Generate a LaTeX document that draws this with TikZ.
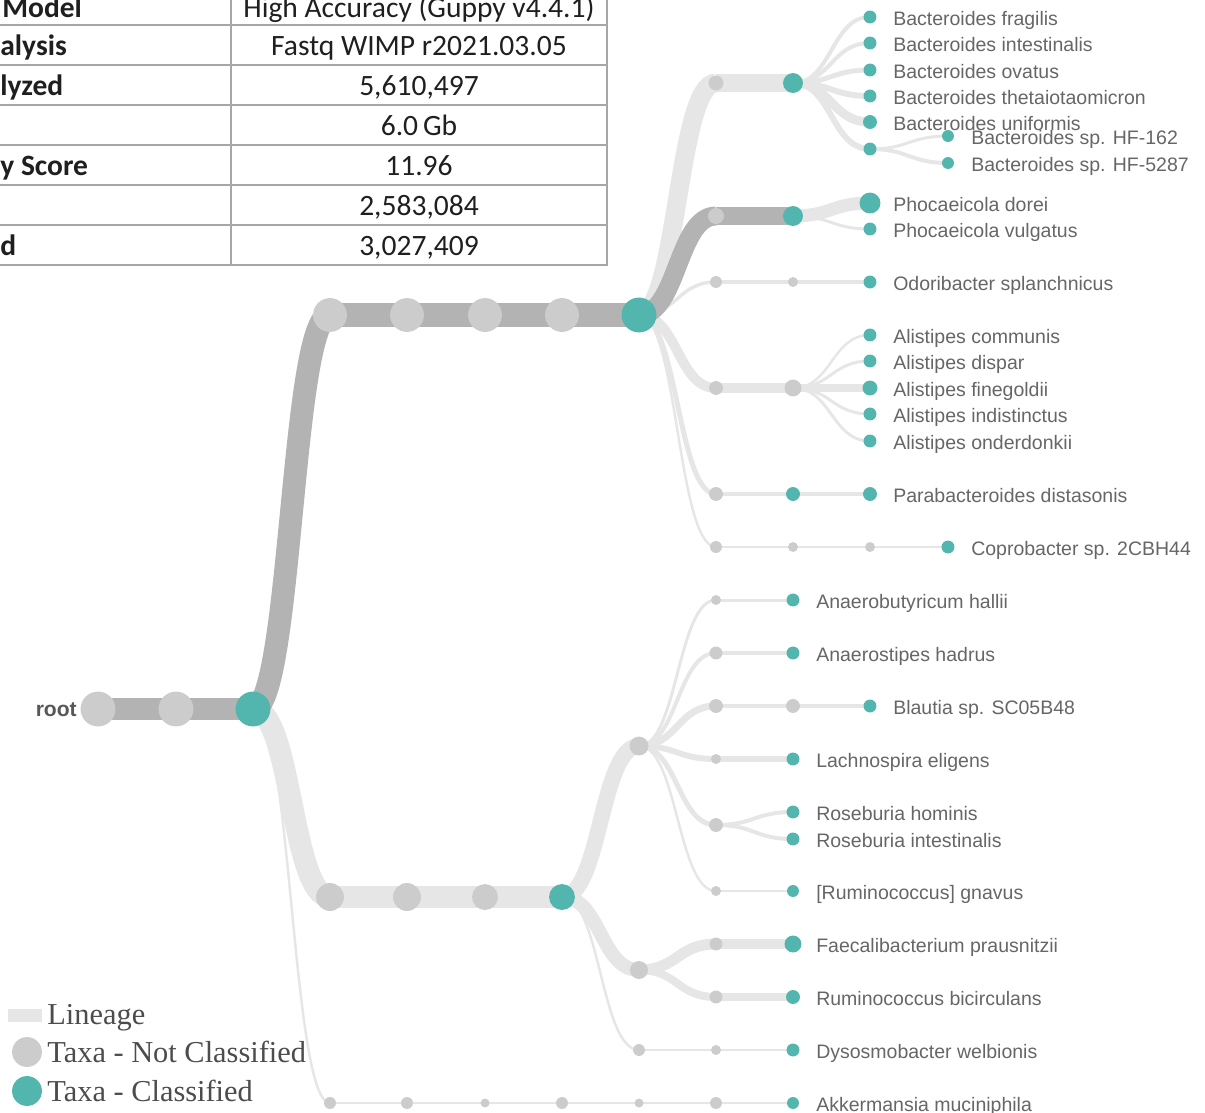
\documentclass[tikz,border=0pt]{standalone}
\usepackage{fontspec}
\newfontfamily\lblfont{Liberation Sans}
\newfontfamily\tabfont{Carlito}
\newfontfamily\legfont{Liberation Serif}
\definecolor{clsf}{HTML}{52B6AE}
\definecolor{ncls}{HTML}{CCCCCC}
\definecolor{linL}{HTML}{E6E6E6}
\definecolor{linD}{HTML}{B3B3B3}
\definecolor{txtc}{HTML}{666666}
\definecolor{tabl}{HTML}{A6A6A6}
\pgfdeclarelayer{bg}
\pgfsetlayers{bg,main}
\tikzset{
  taxon/.style={circle, inner sep=0pt, outer sep=0pt, draw=none},
  lin/.style={line cap=butt},
  lbl/.style={font=\lblfont\fontsize{11.1}{13}\selectfont, text=txtc, anchor=west, inner sep=0pt, text height=7.95pt, text depth=0pt},
  rootlbl/.style={font=\lblfont\bfseries\fontsize{12}{14}\selectfont, text=txtc!85!black, anchor=east, inner sep=0pt, text height=8.6pt, text depth=0pt},
  tabv/.style={font=\tabfont\fontsize{16.8}{19}\selectfont, text=black!88, inner sep=0pt, text height=10.8pt, text depth=0pt},
  tabk/.style={font=\tabfont\bfseries\fontsize{16.8}{19}\selectfont, text=black!88, anchor=west, inner sep=0pt, text height=10.8pt, text depth=0pt},
  tabline/.style={draw=tabl, line width=1.3pt},
  leg/.style={font=\legfont\fontsize{17.3}{20}\selectfont, text=black!70, anchor=west, inner sep=0pt, text height=11.45pt, text depth=0pt},
}
\newcommand\taxnode[5]{\node[taxon, minimum size=#4*1.1338pt, fill=#5] (#1) at (#2,#3) {};}
\newcommand\taxlab[2]{\node[lbl] (#1t) at ([xshift=13.04pt, yshift=-0.6pt]#1.center) {#2};}
\newcommand\lineage[4]{\draw[lin, line width=#3*0.5669pt, draw=#4] (#1.center) .. controls +(38.6,0) and +(-38.6,0) .. (#2.center);}
\begin{document}
\begin{tikzpicture}[x=0.02cm, y=-0.02cm]
\useasboundingbox (0,0) rectangle (1205,1113);

% ---------- table ----------
\foreach \yy in {25,65,105,145,185,225,265} {\draw[tabline] (-5,\yy) -- (608,\yy);}
\draw[tabline] (231,-10) -- (231,266);
\draw[tabline] (607,-10) -- (607,266);
\node[tabk] (tk1) at (2,8) {Model};
\node[tabk] (tk2) at (0,46) {alysis};
\node[tabk] (tk3) at (0,86) {lyzed};
\node[tabk] (tk5) at (0,166) {y Score};
\node[tabk] (tk7) at (0,246) {d};
\node[tabv] (tv1) at (419,8) {High Accuracy (Guppy v4.4.1)};
\node[tabv] (tv2) at (419,46) {Fastq WIMP r2021.03.05};
\node[tabv] (tv3) at (419,86) {5,610,497};
\node[tabv] (tv4) at (419,126) {6.0\,Gb};
\node[tabv] (tv5) at (419,166) {11.96};
\node[tabv] (tv6) at (419,206) {2,583,084};
\node[tabv] (tv7) at (419,246) {3,027,409};

% ---------- nodes ----------
\taxnode{r0}{98}{709}{17.5}{ncls}
\taxnode{r1}{176}{709}{17.5}{ncls}
\taxnode{r2}{253}{709}{17.5}{clsf}
\taxnode{u1}{330}{315}{17}{ncls}
\taxnode{u2}{407}{315}{17}{ncls}
\taxnode{u3}{485}{315}{17}{ncls}
\taxnode{u4}{562}{315}{17}{ncls}
\taxnode{u5}{639}{315}{17.5}{clsf}
% Bacteroides
\taxnode{ba1}{716}{83}{7.5}{ncls}
\taxnode{ba2}{793}{83}{10}{clsf}
\taxnode{bf}{870}{17}{6.5}{clsf}
\taxnode{bi}{870}{43}{6.5}{clsf}
\taxnode{bo}{870}{70}{6.5}{clsf}
\taxnode{bt}{870}{96}{6.5}{clsf}
\taxnode{bu}{870}{122}{7}{clsf}
\taxnode{bs}{870}{149}{6.5}{clsf}
\taxnode{bha}{948}{136}{6}{clsf}
\taxnode{bhb}{948}{163}{6}{clsf}
% Phocaeicola
\taxnode{ph1}{716}{216}{8}{ncls}
\taxnode{ph2}{793}{216}{10}{clsf}
\taxnode{pd}{870}{203}{10.5}{clsf}
\taxnode{pv}{870}{229}{6.5}{clsf}
% Odoribacter
\taxnode{od1}{716}{282}{6}{ncls}
\taxnode{od2}{793}{282}{5}{ncls}
\taxnode{od3}{870}{282}{6.5}{clsf}
% Alistipes
\taxnode{al1}{716}{388}{7}{ncls}
\taxnode{al2}{793}{388}{8.5}{ncls}
\taxnode{ac}{870}{335}{6.5}{clsf}
\taxnode{ad}{870}{361}{6.5}{clsf}
\taxnode{af}{870}{388}{7.5}{clsf}
\taxnode{ai}{870}{414}{6.5}{clsf}
\taxnode{ao}{870}{441}{6.5}{clsf}
% Parabacteroides
\taxnode{pa1}{716}{494}{7}{ncls}
\taxnode{pa2}{793}{494}{7}{clsf}
\taxnode{pa3}{870}{494}{7}{clsf}
% Coprobacter
\taxnode{co1}{716}{547}{6}{ncls}
\taxnode{co2}{793}{547}{5}{ncls}
\taxnode{co3}{870}{547}{5}{ncls}
\taxnode{co4}{948}{547}{6.5}{clsf}
% lower trunk
\taxnode{l1}{330}{897}{14}{ncls}
\taxnode{l2}{407}{897}{14}{ncls}
\taxnode{l3}{485}{897}{13}{ncls}
\taxnode{l4}{562}{897}{13}{clsf}
\taxnode{la}{639}{746}{9.5}{ncls}
\taxnode{an1}{716}{600}{5}{ncls}
\taxnode{an2}{793}{600}{6.5}{clsf}
\taxnode{as1}{716}{653}{6.5}{ncls}
\taxnode{as2}{793}{653}{6.5}{clsf}
\taxnode{bl1}{716}{706}{7}{ncls}
\taxnode{bl2}{793}{706}{7}{ncls}
\taxnode{bl3}{870}{706}{6.5}{clsf}
\taxnode{lc1}{716}{759}{5}{ncls}
\taxnode{lc2}{793}{759}{6.5}{clsf}
\taxnode{ro1}{716}{825}{7}{ncls}
\taxnode{rh}{793}{812}{6.5}{clsf}
\taxnode{ri}{793}{839}{6.5}{clsf}
\taxnode{rg1}{716}{891}{5}{ncls}
\taxnode{rg2}{793}{891}{6}{clsf}
\taxnode{fa}{639}{970}{9}{ncls}
\taxnode{fp1}{716}{944}{6.5}{ncls}
\taxnode{fp2}{793}{944}{8.5}{clsf}
\taxnode{rb1}{716}{997}{6.5}{ncls}
\taxnode{rb2}{793}{997}{7}{clsf}
\taxnode{dy1}{639}{1050}{6}{ncls}
\taxnode{dy2}{716}{1050}{5}{ncls}
\taxnode{dy3}{793}{1050}{6.5}{clsf}
\taxnode{ak1}{330}{1103}{6}{ncls}
\taxnode{ak2}{407}{1103}{6}{ncls}
\taxnode{ak3}{485}{1103}{4.5}{ncls}
\taxnode{ak4}{562}{1103}{6}{ncls}
\taxnode{ak5}{639}{1103}{4.5}{ncls}
\taxnode{ak6}{716}{1103}{6}{ncls}
\taxnode{ak7}{793}{1103}{6}{clsf}

% ---------- labels ----------
\node[rootlbl] (rt) at ([xshift=-11.9pt]r0.center) {root};
\taxlab{bf}{Bacteroides fragilis}
\taxlab{bi}{Bacteroides intestinalis}
\taxlab{bo}{Bacteroides ovatus}
\taxlab{bt}{Bacteroides thetaiotaomicron}
\taxlab{bu}{Bacteroides uniformis}
\taxlab{bha}{Bacteroides sp. HF-162}
\taxlab{bhb}{Bacteroides sp. HF-5287}
\taxlab{pd}{Phocaeicola dorei}
\taxlab{pv}{Phocaeicola vulgatus}
\taxlab{od3}{Odoribacter splanchnicus}
\taxlab{ac}{Alistipes communis}
\taxlab{ad}{Alistipes dispar}
\taxlab{af}{Alistipes finegoldii}
\taxlab{ai}{Alistipes indistinctus}
\taxlab{ao}{Alistipes onderdonkii}
\taxlab{pa3}{Parabacteroides distasonis}
\taxlab{co4}{Coprobacter sp. 2CBH44}
\taxlab{an2}{Anaerobutyricum hallii}
\taxlab{as2}{Anaerostipes hadrus}
\taxlab{bl3}{Blautia sp. SC05B48}
\taxlab{lc2}{Lachnospira eligens}
\taxlab{rh}{Roseburia hominis}
\taxlab{ri}{Roseburia intestinalis}
\taxlab{rg2}{[Ruminococcus] gnavus}
\taxlab{fp2}{Faecalibacterium prausnitzii}
\taxlab{rb2}{Ruminococcus bicirculans}
\taxlab{dy3}{Dysosmobacter welbionis}
\taxlab{ak7}{Akkermansia muciniphila}

% ---------- legend ----------
\node[inner sep=0pt, fill=linL, minimum width=19.3pt, minimum height=7.4pt] (legL) at (25,1015.5) {};
\node[taxon, fill=ncls, minimum size=17pt] (legN) at (27,1052) {};
\node[taxon, fill=clsf, minimum size=17pt] (legC) at (27,1091) {};
\node[leg] (legLt) at (47,1014) {Lineage};
\node[leg] (legNt) at (47,1052) {Taxa - Not Classified};
\node[leg] (legCt) at (47,1091) {Taxa - Classified};

% ---------- lineages ----------
\begin{pgfonlayer}{bg}
% light
\lineage{r2}{ak1}{2.5}{linL}
\lineage{ak1}{ak2}{2.5}{linL}
\lineage{ak2}{ak3}{2.5}{linL}
\lineage{ak3}{ak4}{2.5}{linL}
\lineage{ak4}{ak5}{2.5}{linL}
\lineage{ak5}{ak6}{2.5}{linL}
\lineage{ak6}{ak7}{2.5}{linL}
\lineage{r2}{l1}{22}{linL}
\lineage{l1}{l2}{23}{linL}
\lineage{l2}{l3}{23}{linL}
\lineage{l3}{l4}{23}{linL}
\lineage{l4}{dy1}{2.5}{linL}
\lineage{dy1}{dy2}{2.5}{linL}
\lineage{dy2}{dy3}{2.5}{linL}
\lineage{l4}{la}{16}{linL}
\lineage{la}{an1}{3}{linL}
\lineage{an1}{an2}{3}{linL}
\lineage{la}{as1}{4}{linL}
\lineage{as1}{as2}{4}{linL}
\lineage{la}{bl1}{7}{linL}
\lineage{bl1}{bl2}{5}{linL}
\lineage{bl2}{bl3}{5}{linL}
\lineage{la}{lc1}{6}{linL}
\lineage{lc1}{lc2}{6}{linL}
\lineage{la}{ro1}{5}{linL}
\lineage{ro1}{rh}{4}{linL}
\lineage{ro1}{ri}{4}{linL}
\lineage{la}{rg1}{2.5}{linL}
\lineage{rg1}{rg2}{2.5}{linL}
\lineage{l4}{fa}{14}{linL}
\lineage{fa}{fp1}{11}{linL}
\lineage{fp1}{fp2}{11}{linL}
\lineage{fa}{rb1}{8}{linL}
\lineage{rb1}{rb2}{8}{linL}
% upper light
\lineage{u5}{co1}{2.5}{linL}
\lineage{co1}{co2}{2.5}{linL}
\lineage{co2}{co3}{2.5}{linL}
\lineage{co3}{co4}{2.5}{linL}
\lineage{u5}{pa1}{5}{linL}
\lineage{pa1}{pa2}{4}{linL}
\lineage{pa2}{pa3}{4}{linL}
\lineage{u5}{al1}{10}{linL}
\lineage{al1}{al2}{10}{linL}
\lineage{al2}{ac}{2.5}{linL}
\lineage{al2}{ad}{3}{linL}
\lineage{al2}{af}{8}{linL}
\lineage{al2}{ai}{3}{linL}
\lineage{al2}{ao}{3}{linL}
\lineage{u5}{od1}{3.5}{linL}
\lineage{od1}{od2}{3.5}{linL}
\lineage{od2}{od3}{3.5}{linL}
\lineage{u5}{ba1}{19}{linL}
\lineage{ba1}{ba2}{19}{linL}
\lineage{ba2}{bf}{4}{linL}
\lineage{ba2}{bi}{4}{linL}
\lineage{ba2}{bo}{5}{linL}
\lineage{ba2}{bt}{6}{linL}
\lineage{ba2}{bu}{9}{linL}
\lineage{ba2}{bs}{6}{linL}
\lineage{bs}{bha}{3}{linL}
\lineage{bs}{bhb}{4}{linL}
\lineage{ph2}{pd}{13}{linL}
\lineage{ph2}{pv}{3}{linL}
% dark
\lineage{u5}{ph1}{19}{linD}
\lineage{ph1}{ph2}{19}{linD}
\lineage{r0}{r1}{23}{linD}
\lineage{r1}{r2}{23}{linD}
\lineage{r2}{u1}{23}{linD}
\lineage{u1}{u2}{24}{linD}
\lineage{u2}{u3}{24}{linD}
\lineage{u3}{u4}{24}{linD}
\lineage{u4}{u5}{24}{linD}
\end{pgfonlayer}
\end{tikzpicture}
\end{document}
